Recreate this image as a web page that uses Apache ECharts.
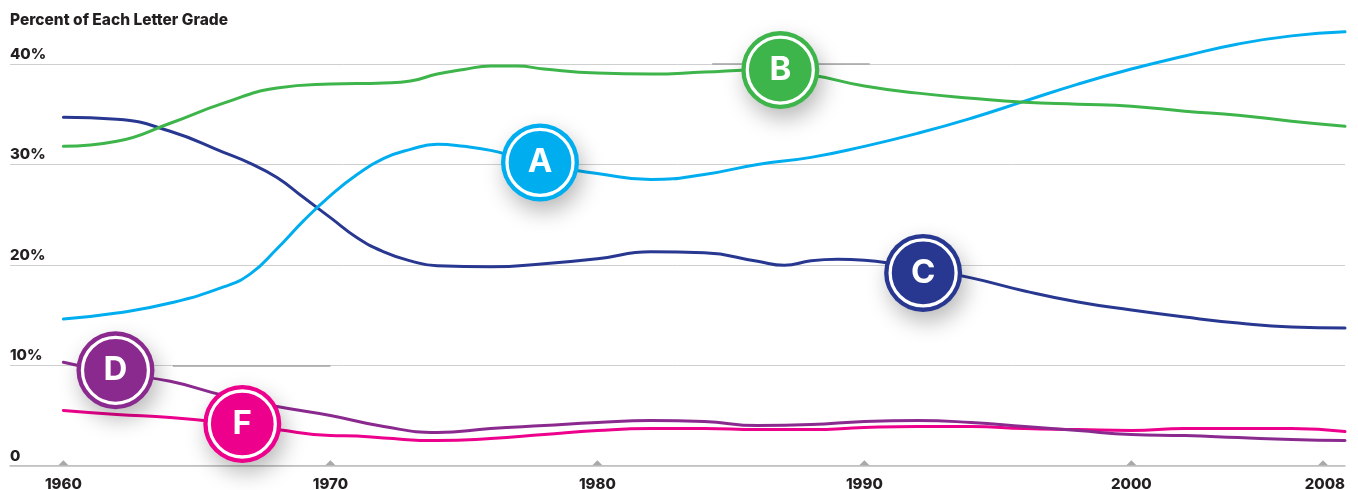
<!DOCTYPE html>
<html>
<head>
<meta charset="utf-8">
<script src="https://cdn.jsdelivr.net/npm/echarts@6/dist/echarts.min.js"></script>
<style>
  html, body { margin: 0; padding: 0; background: #fff; }
  #chart { width: 1358px; height: 490px; }
</style>
</head>
<body>
<div id="chart"></div>
<script>
// ---- data ----
const titleText = 'Percent of Each Letter Grade';
const tickYears = [1960, 1970, 1980, 1990, 2000, 2008];
const yTicks = [0, 10, 20, 30, 40];

const yearsA = [1960,1962,1964,1966,1967,1968,1969,1970,1971,1972,1973,1974,1975,1976,1977,1978,1979,1980,1982,1984,1986,1988,1990,1992,1994,1996,1998,2000,2002,2004,2006,2008];
const gradeA = [14.6,15.2,16.2,17.8,19.1,21.6,24.4,26.9,29.0,30.6,31.5,32.0,31.8,31.4,30.7,30.0,29.5,29.1,28.5,29.0,30.0,30.7,31.8,33.1,34.6,36.3,38.0,39.5,40.8,42.0,42.8,43.2];

const yearsB = [1960,1962,1964,1966,1968,1970,1972,1973,1974,1975,1976,1977,1978,1980,1982,1984,1986,1988,1990,1992,1994,1996,1998,2000,2002,2004,2006,2008];
const gradeB = [31.8,32.3,34.1,36.1,37.6,38.0,38.1,38.3,39.0,39.45,39.8,39.8,39.5,39.1,39.0,39.2,39.4,38.9,37.8,37.1,36.6,36.2,36.0,35.8,35.3,34.9,34.3,33.8];

const yearsC = [1960,1962,1964,1966,1967,1968,1969,1970,1971,1972,1973,1974,1976,1978,1980,1982,1984,1986,1987,1988,1989,1990,1991,1992,1994,1996,1998,2000,2002,2004,2006,2008];
const gradeC = [34.7,34.5,33.3,31.2,30.1,28.7,26.7,24.7,22.7,21.3,20.4,19.9,19.8,20.1,20.6,21.3,21.2,20.35,19.95,20.4,20.55,20.45,20.15,19.7,18.7,17.4,16.3,15.5,14.8,14.2,13.8,13.7];

const yearsD = [1960,1962,1964,1966,1968,1970,1972,1974,1976,1978,1980,1982,1984,1986,1988,1990,1992,1994,1996,1998,2000,2002,2004,2006,2008];
const gradeD = [10.3,9.2,8.4,7.0,5.9,5.0,3.9,3.3,3.7,4.0,4.3,4.5,4.4,4.0,4.1,4.4,4.5,4.3,3.9,3.5,3.1,3.0,2.8,2.6,2.5];

const yearsF = [1960,1962,1964,1966,1968,1970,1971,1972,1974,1976,1978,1980,1982,1984,1986,1988,1990,1992,1994,1996,1998,2000,2002,2004,2006,2008];
const gradeF = [5.5,5.1,4.8,4.3,3.6,3.0,2.95,2.75,2.5,2.7,3.1,3.5,3.7,3.7,3.6,3.6,3.8,3.9,3.9,3.7,3.6,3.5,3.7,3.7,3.7,3.4];

const badgeLetters = ['A', 'B', 'C', 'D', 'F'];
const badgeYears   = [1977.85, 1986.85, 1992.2, 1961.95, 1966.7];
const badgeValues  = [30.2, 39.4, 19.2, 9.5, 4.15];

// ---- styles ----
const colors = { A: '#00aeef', B: '#3db54a', C: '#283891', D: '#8b2a8e', F: '#ec008c' };
const fontFamily = 'Inter, "Noto Sans", sans-serif';
const textColor = '#231f20';

function zip(xs, ys) { return xs.map((x, i) => [x, ys[i]]); }

function lineSeries(name, xs, ys) {
  return {
    name: name,
    type: 'line',
    data: zip(xs, ys),
    smooth: 0.5,
    showSymbol: false,
    clip: false,
    lineStyle: { color: colors[name], width: 3, cap: 'round', opacity: 1 },
    itemStyle: { color: colors[name] },
    z: 3
  };
}

const badgeOuter = badgeLetters.map((l, i) => ({
  value: [badgeYears[i], badgeValues[i]],
  itemStyle: {
    color: colors[l], opacity: 1,
    shadowBlur: 22, shadowColor: 'rgba(0,0,0,0.28)', shadowOffsetX: 4, shadowOffsetY: 10
  }
}));
const badgeInner = badgeLetters.map((l, i) => ({
  value: [badgeYears[i], badgeValues[i]],
  name: l,
  itemStyle: { color: colors[l], opacity: 1, borderColor: '#ffffff', borderWidth: 3.3 }
}));

const tickMarks = tickYears.map((y, i) => ({
  value: [y, 0],
  symbolOffset: [i === tickYears.length - 1 ? -22 : 0, -3]
}));

const chart = echarts.init(document.getElementById('chart'), null, { renderer: 'canvas' });
chart.setOption({
  animation: false,
  backgroundColor: '#ffffff',
  title: {
    text: titleText,
    left: 10, top: 12, padding: 0,
    textStyle: { fontFamily, fontSize: 15.5, fontWeight: 800, color: textColor }
  },
  grid: { left: 10, right: 13, top: 64, bottom: 24.3, containLabel: false, outerBoundsMode: 'none' },
  xAxis: {
    type: 'value',
    min: 1958, max: 2008,
    axisLine: { show: true, lineStyle: { color: '#bdbdbd', width: 1.5 } },
    axisTick: { show: false },
    splitLine: { show: false },
    axisLabel: {
      customValues: tickYears,
      margin: 11,
      alignMaxLabel: 'right',
      fontFamily, fontSize: 15, fontWeight: 800, color: textColor,
      formatter: v => String(v)
    }
  },
  yAxis: {
    type: 'value',
    min: 0, max: 40, interval: 10,
    axisLine: { show: false },
    axisTick: { show: false },
    splitLine: { show: true, lineStyle: { color: '#cfcfcf', width: 1 } },
    axisLabel: {
      inside: true,
      margin: 0,
      align: 'left',
      verticalAlign: 'bottom',
      padding: [0, 0, 2, 0],
      fontFamily, fontSize: 15, fontWeight: 800, color: textColor,
      formatter: v => (v === 0 ? '0' : v + '%')
    }
  },
  series: [
    {
      type: 'line', data: [], silent: true,
      markLine: {
        silent: true, symbol: 'none', label: { show: false },
        lineStyle: { color: '#a3a3a3', width: 1.5, type: 'solid' },
        data: [
          [{ coord: [1984.3, 40] }, { coord: [1990.2, 40] }],
          [{ coord: [1964.1, 10] }, { coord: [1970.0, 10] }]
        ]
      }
    },
    {
      type: 'scatter', data: tickMarks, symbol: 'triangle', symbolSize: [10, 5],
      itemStyle: { color: '#a9a9a9', opacity: 1 }, silent: true, clip: false, z: 2
    },
    lineSeries('F', yearsF, gradeF),
    lineSeries('D', yearsD, gradeD),
    lineSeries('C', yearsC, gradeC),
    lineSeries('A', yearsA, gradeA),
    lineSeries('B', yearsB, gradeB),
    {
      type: 'scatter', data: badgeOuter, symbol: 'circle', symbolSize: 78,
      clip: false, silent: true, z: 5
    },
    {
      type: 'scatter', data: badgeInner, symbol: 'circle', symbolSize: 66,
      clip: false, silent: true, z: 6,
      label: {
        show: true, position: 'inside',
        formatter: p => p.name,
        color: '#ffffff', fontFamily, fontSize: 33, fontWeight: 700
      }
    }
  ]
});
</script>
</body>
</html>
